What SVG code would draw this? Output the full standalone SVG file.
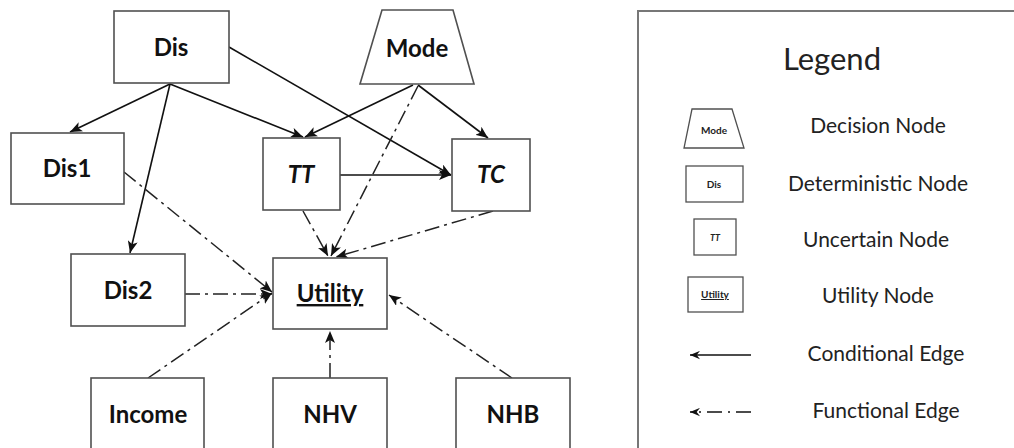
<svg xmlns="http://www.w3.org/2000/svg" width="1014" height="448" viewBox="0 0 1014 448">
<style>
.box{fill:#fff;stroke:#505050;stroke-width:1.6}
.lbl{font-family:Lato,"Liberation Sans",sans-serif;font-weight:bold;font-size:24px;fill:#111;text-anchor:middle}
.it{font-style:italic}
.ul{text-decoration:underline}
.sol{fill:none;stroke:#111;stroke-width:1.6}
.fun{fill:none;stroke:#222;stroke-width:1.5;stroke-dasharray:15 5 3 5}
.leg{font-family:Lato,"Liberation Sans",sans-serif;font-size:21px;fill:#222;text-anchor:middle}
.sm{font-family:Lato,"Liberation Sans",sans-serif;font-weight:bold;fill:#222;text-anchor:middle}
</style>
<defs>
<marker id="ah" viewBox="0 0 12 10" refX="12" refY="5" markerWidth="12" markerHeight="10" markerUnits="userSpaceOnUse" orient="auto">
<path d="M0,0 L12,5 L0,10 L3,5 z" fill="#111"/>
</marker>
<marker id="ahs" viewBox="0 0 12 10" refX="12" refY="5" markerWidth="10" markerHeight="9" markerUnits="userSpaceOnUse" orient="auto">
<path d="M0,0 L12,5 L0,10 L4,5 z" fill="#111"/>
</marker>
</defs>

<g id="connectors">
<path class="sol" d="M170,84 L70,132" marker-end="url(#ah)"/>
<path class="sol" d="M170,84 L130,253" marker-end="url(#ah)"/>
<path class="sol" d="M170,84 L303,137" marker-end="url(#ah)"/>
<path class="sol" d="M229,47 L451,175" marker-end="url(#ah)"/>
<path class="sol" d="M413,85 L305,137" marker-end="url(#ah)"/>
<path class="sol" d="M418,85 L488,138" marker-end="url(#ah)"/>
<path class="sol" d="M340,175 L451,175" marker-end="url(#ah)"/>
<path class="fun" d="M124,172 L272,292" marker-end="url(#ah)"/>
<path class="fun" d="M185,294 L272,294" marker-end="url(#ah)"/>
<path class="fun" d="M148,378 L272,293" marker-end="url(#ah)"/>
<path class="fun" d="M330,378 L330,331" marker-end="url(#ah)"/>
<path class="fun" d="M512,378 L389,295" marker-end="url(#ah)"/>
<path class="fun" d="M303,211 L328,256" marker-end="url(#ah)"/>
<path class="fun" d="M418,86 L331,256" marker-end="url(#ah)"/>
<path class="fun" d="M493,211 L336,257" marker-end="url(#ah)"/>
</g>

<g id="node-dis"><rect class="box" x="114" y="11" width="115" height="72"/><text class="lbl" x="171" y="56">Dis</text></g>
<g id="node-mode"><path class="box" d="M382,10 L453,10 L474,84 L360,84 Z"/><text class="lbl" x="417" y="57">Mode</text></g>
<g id="node-dis1"><rect class="box" x="11" y="133" width="113" height="71"/><text class="lbl" x="67" y="177">Dis1</text></g>
<g id="node-tt"><rect class="box" x="263" y="138" width="77" height="72"/><text class="lbl it" x="301" y="183">TT</text></g>
<g id="node-tc"><rect class="box" x="452" y="139" width="78" height="72"/><text class="lbl it" x="491" y="183">TC</text></g>
<g id="node-dis2"><rect class="box" x="71" y="254" width="114" height="72"/><text class="lbl" x="128" y="299">Dis2</text></g>
<g id="node-utility"><rect class="box" x="273" y="258" width="114" height="71"/><text class="lbl ul" x="330" y="302">Utility</text></g>
<g id="node-income"><rect class="box" x="91" y="378" width="113" height="80"/><text class="lbl" x="148" y="423">Income</text></g>
<g id="node-nhv"><rect class="box" x="273" y="378" width="114" height="80"/><text class="lbl" x="330" y="423">NHV</text></g>
<g id="node-nhb"><rect class="box" x="456" y="378" width="114" height="80"/><text class="lbl" x="513" y="423">NHB</text></g>

<g id="legend">
<rect x="638" y="11" width="400" height="460" fill="none" stroke="#777" stroke-width="2"/>
<text class="leg" x="832" y="70" style="font-size:31px">Legend</text>
<path class="box" d="M692,109 L732,109 L744,148 L684,148 Z" style="stroke-width:1.3"/>
<text class="sm" x="714" y="134" style="font-size:10px">Mode</text>
<text class="leg" x="878" y="133">Decision Node</text>
<rect class="box" x="686" y="166" width="57" height="36" style="stroke-width:1.3"/>
<text class="sm" x="714" y="188" style="font-size:10px">Dis</text>
<text class="leg" x="878" y="191">Deterministic Node</text>
<rect class="box" x="694" y="219" width="42" height="36" style="stroke-width:1.3"/>
<text class="sm" x="715" y="241" style="font-size:9px;font-style:italic">TT</text>
<text class="leg" x="876" y="247">Uncertain Node</text>
<rect class="box" x="688" y="277" width="55" height="35" style="stroke-width:1.3"/>
<text class="sm" x="715" y="298" style="font-size:10px;text-decoration:underline">Utility</text>
<text class="leg" x="878" y="303">Utility Node</text>
<path class="sol" d="M751,355 L690,355" marker-end="url(#ahs)"/>
<text class="leg" x="886" y="361">Conditional Edge</text>
<path class="sol" d="M751,412 L690,412" style="stroke-dasharray:15 6 2 6" marker-end="url(#ahs)"/>
<text class="leg" x="886" y="418">Functional Edge</text>
</g>
</svg>
